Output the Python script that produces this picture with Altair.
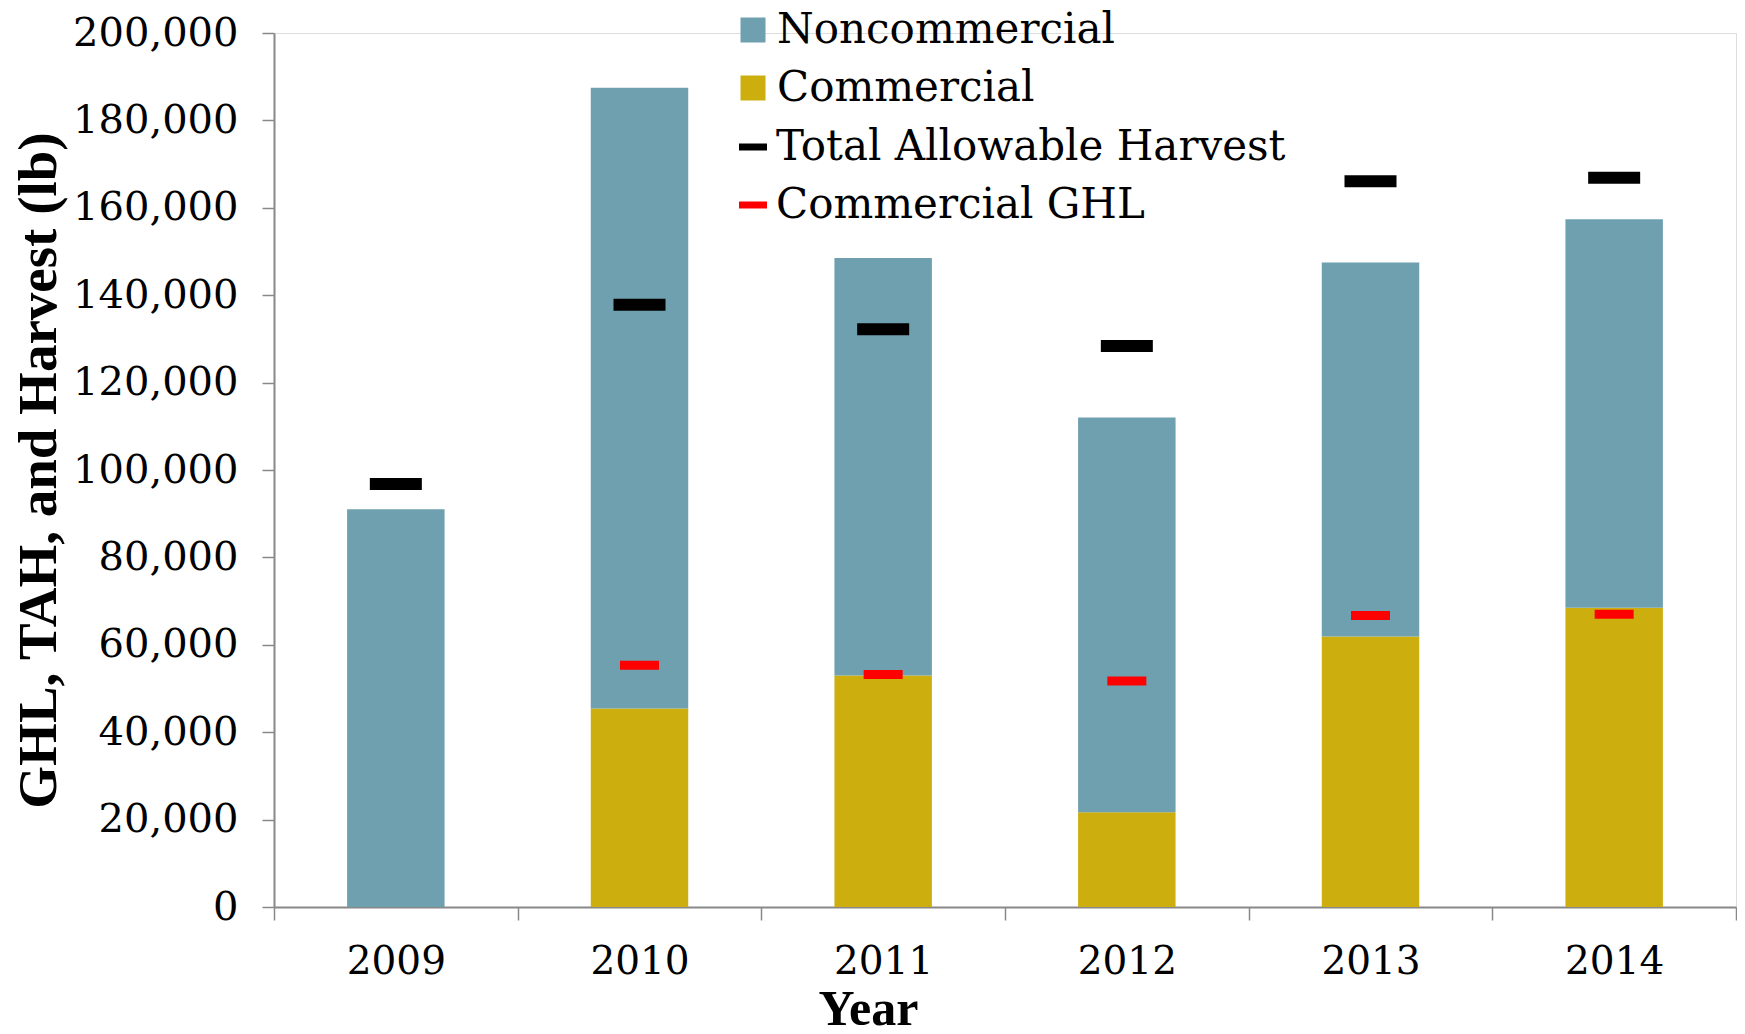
import altair as alt
import pandas as pd

years = ["2009", "2010", "2011", "2012", "2013", "2014"]
commercial = [0, 45400, 53000, 21700, 61900, 68500]
noncommercial = [91000, 142100, 95500, 90300, 85600, 88900]
tah = [96800, 137800, 132200, 128400, 166100, 166900]
ghl_years = ["2010", "2011", "2012", "2013", "2014"]
ghl = [55300, 53200, 51700, 66700, 67000]

bar_cats = ["Noncommercial", "Commercial"]
bar_colors = ["#6FA0B0", "#CCAE0E"]
mark_cats = ["Total Allowable Harvest", "Commercial GHL"]
mark_colors = ["#000000", "#FF0000"]

rows = []
for y, c, n in zip(years, commercial, noncommercial):
    rows.append({"Year": y, "Series": "Commercial", "ord": 0, "value": c})
    rows.append({"Year": y, "Series": "Noncommercial", "ord": 1, "value": n})
bars_df = pd.DataFrame(rows)
tah_df = pd.DataFrame({"Year": years, "value": tah, "Series": mark_cats[0]})
ghl_df = pd.DataFrame({"Year": ghl_years, "value": ghl, "Series": mark_cats[1]})

SERIF = "DejaVu Serif"
TITLE_FONT = "Liberation Serif"

x_scale = alt.Scale(domain=years, paddingInner=0, paddingOuter=0)

x_enc = alt.X(
    "Year:N",
    scale=x_scale,
    axis=alt.Axis(
        title="Year",
        labelAngle=0,
        labelFont=SERIF,
        labelFontSize=39,
        labelColor="black",
        labelPadding=22,
        tickBand="extent",
        tickSize=13,
        tickColor="#888888",
        tickWidth=1.5,
        domainColor="#888888",
        domainWidth=2,
        titleFont=TITLE_FONT,
        titleFontSize=50,
        titleFontWeight="bold",
        titleColor="black",
        titleX=594,
        titleY=117,
        titleAlign="center",
        titleBaseline="alphabetic",
    ),
)

y_scale = alt.Scale(domain=[0, 200000], nice=False)
y_axis = alt.Axis(
    title="GHL, TAH, and Harvest (lb)",
    values=list(range(0, 200001, 20000)),
    format=",d",
    grid=False,
    labelFont=SERIF,
    labelFontSize=40,
    labelColor="black",
    labelPadding=24,
    tickSize=12,
    tickColor="#888888",
    tickWidth=1.5,
    domainColor="#888888",
    domainWidth=2,
    titleFont=TITLE_FONT,
    titleFontSize=55,
    titleFontWeight="bold",
    titleColor="black",
    titleX=-236,
    titleY=437,
    titleAngle=270,
    titleAlign="center",
    titleBaseline="middle",
)

bars = alt.Chart(bars_df).mark_bar(width=alt.RelativeBandSize(0.4)).encode(
    x=x_enc,
    y=alt.Y("value:Q", stack="zero", scale=y_scale, axis=y_axis),
    color=alt.Color(
        "Series:N",
        scale=alt.Scale(domain=bar_cats, range=bar_colors),
        legend=alt.Legend(
            title=None,
            orient="none",
            legendX=458,
            legendY=-24,
            symbolType="square",
            symbolSize=625,
            symbolStrokeWidth=0,
            labelFont=SERIF,
            labelFontSize=42,
            labelColor="black",
            labelOffset=3,
            rowPadding=16,
            padding=0,
            labelLimit=1000,
        ),
    ),
    order=alt.Order("ord:Q"),
)

mark_fill = alt.Fill(
    "Series:N",
    scale=alt.Scale(domain=mark_cats, range=mark_colors),
    legend=alt.Legend(
        title=None,
        orient="none",
        legendX=458,
        legendY=93,
        symbolType="M-1,-0.25H1V0.25H-1Z",
        symbolSize=784,
        symbolStrokeWidth=0,
        labelFont=SERIF,
        labelFontSize=42,
        labelColor="black",
        labelOffset=2,
        rowPadding=16,
        padding=0,
        labelLimit=1000,
    ),
)

tah_marks = alt.Chart(tah_df).mark_tick(size=52, thickness=12, opacity=1).encode(
    x=alt.X("Year:N", scale=x_scale),
    y=alt.Y("value:Q", scale=y_scale),
    fill=mark_fill,
)

ghl_marks = alt.Chart(ghl_df).mark_tick(size=39, thickness=9, opacity=1).encode(
    x=alt.X("Year:N", scale=x_scale),
    y=alt.Y("value:Q", scale=y_scale),
    fill=mark_fill,
)

chart = (
    alt.layer(bars, tah_marks, ghl_marks)
    .properties(
        width=1462,
        height=874,
        autosize=alt.AutoSizeParams(type="none"),
        padding={"left": 266, "top": 25, "right": 1, "bottom": 119},
    )
    .configure_view(stroke=None)
    .configure(background="white")
)

chart.save("out.html", embed_options={"renderer": "svg", "actions": False})
